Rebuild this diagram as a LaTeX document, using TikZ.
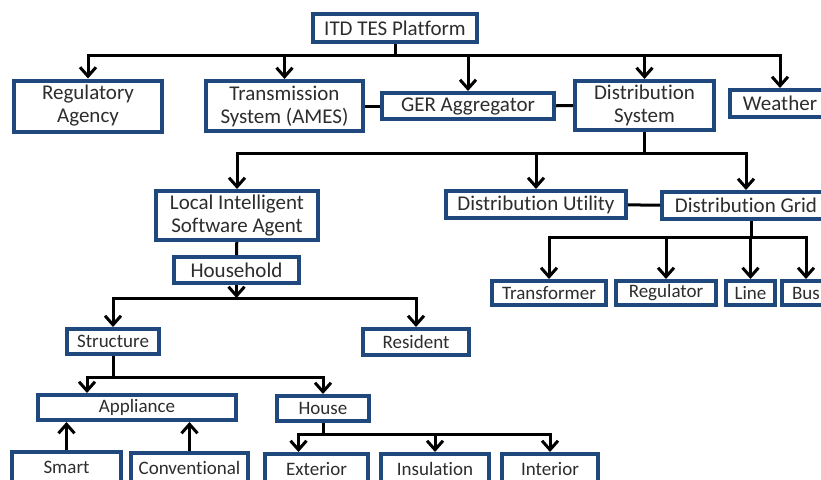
\documentclass[tikz,border=0pt]{standalone}
\usepackage{fontspec}
\setmainfont[Ligatures=NoCommon]{Carlito}
\usetikzlibrary{arrows.meta}
\definecolor{boxblue}{RGB}{31,73,125}
\definecolor{txtgray}{RGB}{45,45,45}

\tikzset{
    box/.style={draw=boxblue, line width=4pt, fill=white, text=txtgray,
        align=center, inner sep=0pt, font=\fontsize{21}{23}\selectfont},
    smallbox/.style={box, font=\fontsize{19}{21}\selectfont},
    link/.style={line width=3pt, black},
    arr/.style={link, -{Straight Barb[length=9pt,width=16pt,line width=3pt]}}
}

\begin{document}
\begin{tikzpicture}[x=1pt, y=-1pt]
        \useasboundingbox (0,0) rectangle (821,479);

        % top level
        \node[box, minimum width=164, minimum height=28] (itd) at (395,28) {ITD TES Platform};
        \node[box, minimum width=148, minimum height=51] (reg) at (88,106) {Regulatory\\Agency};
        \node[box, minimum width=157, minimum height=50] (trans) at (284.5,106) {Transmission\\System (AMES)};
        \node[box, minimum width=172, minimum height=26] (ger) at (468,106) {GER Aggregator};
        \node[box, minimum width=139, minimum height=49] (dsys) at (644.5,105.5) {Distribution\\System};
        \node[box, minimum width=100, minimum height=27] (weather) at (780,103.5) {Weather};

        % distribution level
        \node[box, minimum width=162, minimum height=49] (lisa) at (237,215.5) {Local Intelligent\\Software Agent};
        \node[box, minimum width=180, minimum height=27] (util) at (536,204.5) {Distribution Utility};
        \node[box, minimum width=168, minimum height=27] (grid) at (746,205.5) {Distribution Grid};

        \node[smallbox, minimum width=114, minimum height=24] (trf) at (549,293) {Transformer};
        \node[smallbox, minimum width=100, minimum height=24] (regl) at (666,293) {Regulator};
        \node[smallbox, minimum width=49, minimum height=24] (line) at (750.5,293) {Line};
        \node[smallbox, minimum width=48, minimum height=24] (bus) at (806,293) {Bus};

        % household
        \node[box, minimum width=125, minimum height=26] (hh) at (236.5,270) {Household};
        \node[smallbox, minimum width=92, minimum height=25] (struct) at (113,341.5) {Structure};
        \node[smallbox, minimum width=106, minimum height=26] (res) at (416,342) {Resident};
        \node[smallbox, minimum width=198, minimum height=25] (appl) at (137,407.5) {Appliance};
        \node[smallbox, minimum width=92, minimum height=25] (house) at (323,408.5) {House};
        \node[smallbox, minimum width=109, minimum height=30] (smart) at (66.5,467) {Smart};
        \node[smallbox, minimum width=117, minimum height=30] (conv) at (189.5,468) {Conventional};
        \node[smallbox, minimum width=103, minimum height=30] (ext) at (316.5,469) {Exterior};
        \node[smallbox, minimum width=108, minimum height=30] (ins) at (435,469) {Insulation};
        \node[smallbox, minimum width=96, minimum height=30] (int) at (550,469) {Interior};

        % bus points
        \coordinate (b0) at (itd.south |- 0,55);
        \coordinate (b1) at (dsys.south |- 0,153);
        \coordinate (b2) at ([xshift=5pt]grid.south |- 0,237);
        \coordinate (b3) at (hh.south |- 0,298);
        \coordinate (b4) at (struct.south |- 0,377);
        \coordinate (b5) at (house.south |- 0,434);

        \draw[link] (itd.south) -- (b0);
        \foreach \n in {reg,trans,ger,dsys,weather}
            \draw[arr] (b0) -| (\n.north);
        \draw[link] (trans) -- (ger);
        \draw[link] (ger) -- (dsys);

        \draw[link] (dsys.south) -- (b1);
        \foreach \n in {lisa,util,grid}
            \draw[arr] (b1) -| (\n.north);
        \draw[link] (util) -- (grid);

        \draw[link] ([xshift=5pt]grid.south) -- (b2);
        \foreach \n in {trf,regl,line,bus}
            \draw[arr] (b2) -| (\n.north);

        \draw[link] (lisa) -- (hh);
        \draw[arr] (hh.south) -- (b3);
        \foreach \n in {struct,res}
            \draw[arr] (b3) -| (\n.north);

        \draw[link] (struct.south) -- (b4);
        \draw[arr] (b4) -| ([xshift=-50pt]appl.north);
        \draw[arr] (b4) -| (house.north);
        \draw[arr] (smart.north) -- (smart.north |- appl.south);
        \draw[arr] (conv.north) -- (conv.north |- appl.south);

        \draw[link] (house.south) -- (b5);
        \draw[arr] (b5) -| ([xshift=-18pt]ext.north);
        \draw[arr] (b5) -| (ins.north);
        \draw[arr] (b5) -| (int.north);
    \end{tikzpicture}
\end{document}
